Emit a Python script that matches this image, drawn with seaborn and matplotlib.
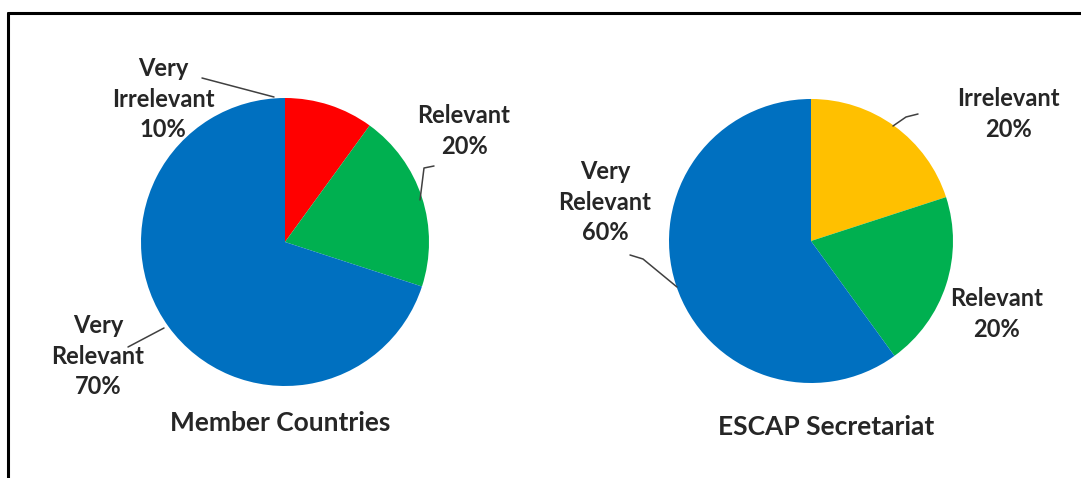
import matplotlib
matplotlib.use("Agg")
import matplotlib.pyplot as plt
from matplotlib.lines import Line2D
import seaborn as sns

# Survey responses: relevance of the programme
member_labels = ["Very\nIrrelevant", "Relevant", "Very\nRelevant"]
member_values = [10, 20, 70]
member_colors = ["#FF0000", "#00B050", "#0070C0"]

escap_labels = ["Irrelevant", "Relevant", "Very\nRelevant"]
escap_values = [20, 20, 60]
escap_colors = ["#FFC000", "#00B050", "#0070C0"]

titles = ["Member Countries", "ESCAP Secretariat"]

sns.set_theme(style="white")
plt.rcParams["font.family"] = ["Lato", "DejaVu Sans"]

W, H = 1081, 478
fig = plt.figure(figsize=(W / 100, H / 100), dpi=100)
fig.patch.set_facecolor("white")

# One axes spanning the figure, measured in pixels (y upward)
ax = fig.add_axes([0, 0, 1, 1])

TXT = "#262626"


def py(y):
    return H - y


def draw_pie(values, colors, cx, cy, r):
    ax.pie(values, colors=colors, startangle=90, counterclock=False,
           center=(cx, py(cy)), radius=r, frame=True,
           wedgeprops=dict(linewidth=0))


draw_pie(member_values, member_colors, 285, 242, 144)
draw_pie(escap_values, escap_colors, 811, 241, 142)
ax.set_xlim(0, W)
ax.set_ylim(0, H)
ax.set_aspect("equal")
ax.axis("off")

lab_kw = dict(ha="center", va="center", fontsize=17, fontweight="bold",
              color=TXT, linespacing=1.4)

# Member Countries labels
ax.text(163, py(99), f"{member_labels[0]}\n{member_values[0]}%", **lab_kw)
ax.text(464, py(131), f"{member_labels[1]}\n{member_values[1]}%", **lab_kw)
ax.text(98, py(356), f"{member_labels[2]}\n{member_values[2]}%", **lab_kw)

# ESCAP Secretariat labels
ax.text(1008, py(114), f"{escap_labels[0]}\n{escap_values[0]}%", **lab_kw)
ax.text(997, py(314), f"{escap_labels[1]}\n{escap_values[1]}%", **lab_kw)
ax.text(605, py(202), f"{escap_labels[2]}\n{escap_values[2]}%", **lab_kw)

# Leader lines
lead_kw = dict(color="#404040", lw=1.1, solid_capstyle="round")
leaders = [
    [(202, 78), (274, 97)],
    [(420, 200), (424, 168), (434, 166)],
    [(128, 347), (164, 328)],
    [(893, 126), (906, 117), (918, 114)],
    [(630, 255), (643, 259), (677, 287)],
]
for pts in leaders:
    xs = [p[0] for p in pts]
    ys = [py(p[1]) for p in pts]
    ax.plot(xs, ys, **lead_kw)

# Chart titles
title_kw = dict(ha="center", va="center", fontsize=19, fontweight="bold",
                color=TXT)
ax.text(280, py(423), titles[0], **title_kw)
ax.text(826, py(427), titles[1], **title_kw)

# Frame: top and left border
fig.add_artist(Line2D([8 / W, 1], [1 - 13 / H, 1 - 13 / H],
                      transform=fig.transFigure, color="black", lw=2.2))
fig.add_artist(Line2D([8 / W, 8 / W], [0, 1 - 13 / H],
                      transform=fig.transFigure, color="black", lw=2.2))

fig.savefig("out.png", dpi=100, facecolor="white")
